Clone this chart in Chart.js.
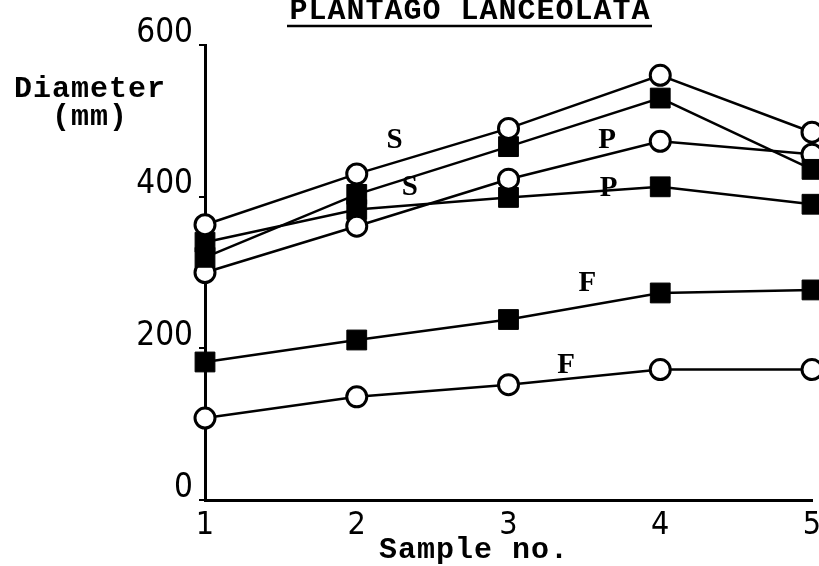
<!DOCTYPE html>
<html>
<head>
<meta charset="utf-8">
<script src="https://cdn.jsdelivr.net/npm/chart.js@4/dist/chart.umd.min.js"></script>
<style>
  html, body { margin: 0; padding: 0; background: #fff; }
  #c { display: block; }
</style>
</head>
<body>
<canvas id="c" width="819" height="566"></canvas>
<script>
// sample numbers on the x axis
const samples = [1, 2, 3, 4, 5];
// diameters (mm)
const sOpen   = [363, 430, 490, 560, 485];
const sFilled = [320, 403, 466, 530, 436];
const pOpen   = [300, 361, 423, 473, 456];
const pFilled = [340, 383, 399, 413, 390];
const fOpen   = [108, 136, 152, 172, 172];
const fFilled = [182, 211, 238, 273, 277];
const yTicks = [0, 200, 400, 600];
// curve letters: text, sample position, diameter
const curveTags = [['S', 2.25, 474], ['S', 2.35, 412], ['P', 3.65, 474], ['P', 3.66, 411], ['F', 3.52, 285], ['F', 3.38, 178]];

const INK = '#000';
const tickFont = "'DejaVu Sans Condensed', 'DejaVu Sans', sans-serif";
const typeFont = "'Liberation Mono', 'DejaVu Sans Mono', monospace";

function series(vals, filled) {
  return {
    data: vals.map((v, i) => ({ x: samples[i], y: v })),
    borderColor: INK,
    borderWidth: 2.5,
    pointStyle: filled ? 'rect' : 'circle',
    pointRadius: filled ? 14 : 10,
    pointBorderWidth: filled ? 1 : 3,
    pointBackgroundColor: filled ? INK : '#fff',
    pointBorderColor: INK,
    tension: 0,
    clip: false,
  };
}

const textLayer = {
  id: 'textLayer',
  afterDraw(chart) {
    const ctx = chart.ctx, x = chart.scales.x, y = chart.scales.y;
    ctx.save();
    ctx.fillStyle = INK;
    ctx.strokeStyle = INK;
    ctx.textAlign = 'center';
    ctx.textBaseline = 'alphabetic';
    ctx.letterSpacing = '1px';
    ctx.font = 'bold 30px ' + typeFont;
    ctx.fillText('PLANTAGO LANCEOLATA', 470, 19);
    ctx.lineWidth = 2.5;
    ctx.beginPath(); ctx.moveTo(287, 26); ctx.lineTo(652, 26); ctx.stroke();
    ctx.fillText('Diameter', 90, 97);
    ctx.fillText('(mm)', 90, 125);
    ctx.fillText('Sample no.', 474, 558);
    ctx.letterSpacing = '0px';
    ctx.font = 'bold 29px "Liberation Serif", serif';
    ctx.textBaseline = 'middle';
    for (const [t, sx, sy] of curveTags) {
      ctx.fillText(t, x.getPixelForValue(sx), y.getPixelForValue(sy));
    }
    ctx.restore();
  }
};

new Chart(document.getElementById('c'), {
  type: 'line',
  data: {
    datasets: [
      series(sOpen, false), series(sFilled, true),
      series(pOpen, false), series(pFilled, true),
      series(fOpen, false), series(fFilled, true),
    ]
  },
  options: {
    responsive: false,
    animation: false,
    layout: { autoPadding: false, padding: { top: 45, right: 7, left: 0, bottom: 0 } },
    plugins: { legend: { display: false }, tooltip: { enabled: false }, title: { display: false } },
    scales: {
      x: {
        type: 'linear', min: 1, max: 5,
        grid: { display: false },
        border: { display: true, color: INK, width: 3 },
        ticks: { stepSize: 1, color: INK, padding: -2, font: { family: tickFont, size: 32 } },
        afterFit(s) { s.height = 66; s.paddingLeft = 0; s.paddingRight = 0; },
      },
      y: {
        min: 0, max: 600,
        grid: { display: true, drawOnChartArea: false, drawTicks: true, tickLength: 6, color: INK, lineWidth: 2 },
        border: { display: true, color: INK, width: 3 },
        ticks: { color: INK, padding: 6, labelOffset: -12, font: { family: tickFont, size: 33 } },
        afterBuildTicks(s) { s.ticks = yTicks.map(v => ({ value: v })); },
        afterFit(s) { s.width = 205; s.paddingTop = 0; s.paddingBottom = 0; },
      }
    }
  },
  plugins: [textLayer]
});
</script>
</body>
</html>
